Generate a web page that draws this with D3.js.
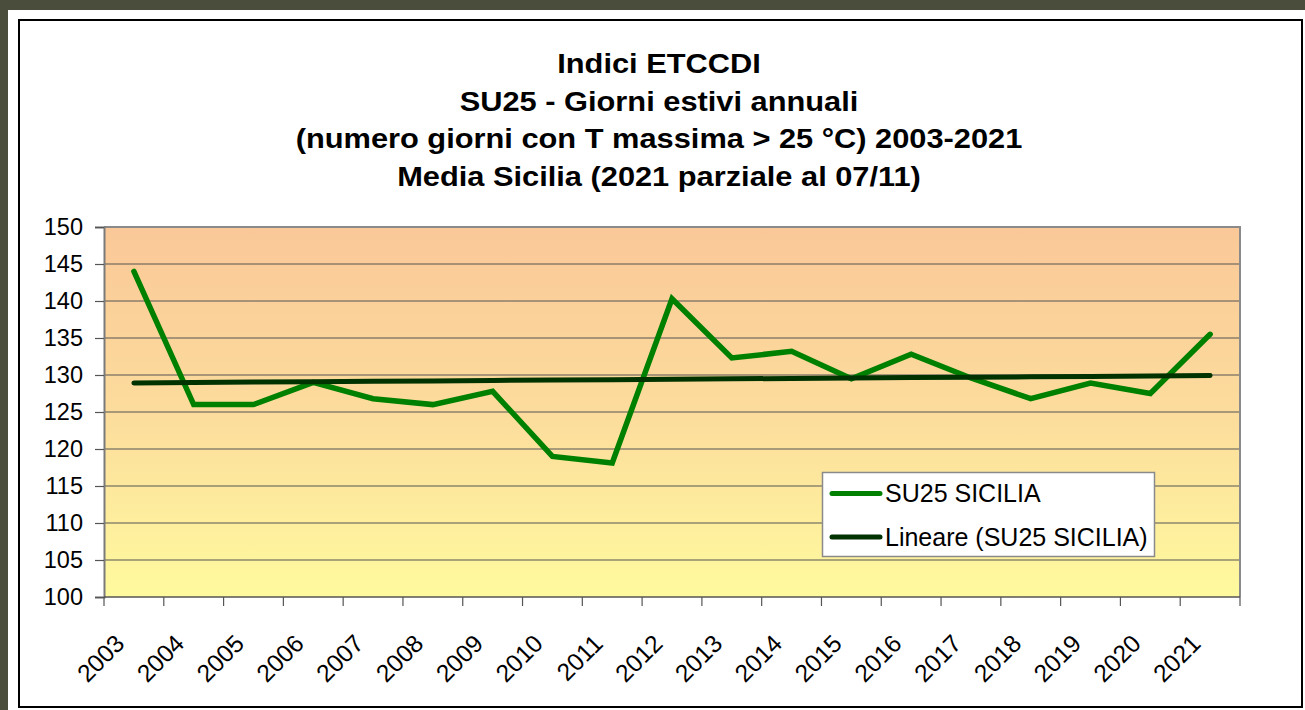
<!DOCTYPE html>
<html>
<head>
<meta charset="utf-8">
<script src="https://cdn.jsdelivr.net/npm/d3@7"></script>
<style>
  html, body { margin: 0; padding: 0; background: #4a4c3c; }
  svg { display: block; }
  text { font-family: "Liberation Sans", Arial, sans-serif; fill: #000; }
</style>
</head>
<body>
<svg id="chart" width="1305" height="710"></svg>
<script>
// ---- data ----
const years = ["2003","2004","2005","2006","2007","2008","2009","2010","2011","2012",
               "2013","2014","2015","2016","2017","2018","2019","2020","2021"];
const su25 = [144, 126, 126, 129, 126.8, 126, 127.8, 119, 118.1, 140.3,
              132.3, 133.2, 129.5, 132.8, 129.6, 126.8, 128.9, 127.5, 135.5];
const yTicks = [100,105,110,115,120,125,130,135,140,145,150];
const titleLines = [
  "Indici ETCCDI",
  "SU25 - Giorni estivi annuali",
  "(numero giorni con T massima > 25 °C) 2003-2021",
  "Media Sicilia (2021 parziale al 07/11)"
];
const seriesNames = ["SU25 SICILIA", "Lineare (SU25 SICILIA)"];

// ---- layout ----
const svg = d3.select("#chart");
const plot = {left: 104, top: 227, right: 1240, bottom: 597};

// outer panel
svg.append("rect").attr("x", 8).attr("y", 10).attr("width", 1297).attr("height", 700).attr("fill", "#fff");
svg.append("rect").attr("x", 19).attr("y", 20).attr("width", 1283).attr("height", 687)
   .attr("fill", "none").attr("stroke", "#000").attr("stroke-width", 2);

// gradient
const defs = svg.append("defs");
const grad = defs.append("linearGradient").attr("id", "bg").attr("x1", 0).attr("y1", 0).attr("x2", 0).attr("y2", 1);
grad.append("stop").attr("offset", "0%").attr("stop-color", "#fac898");
grad.append("stop").attr("offset", "50%").attr("stop-color", "#fcdc9c");
grad.append("stop").attr("offset", "100%").attr("stop-color", "#fffa9e");

const x = d3.scaleBand().domain(years).range([plot.left, plot.right]).padding(0);
const y = d3.scaleLinear().domain([100, 150]).range([plot.bottom, plot.top]);
const cx = d => x(d) + x.bandwidth() / 2;

svg.append("rect").attr("x", plot.left).attr("y", plot.top)
   .attr("width", plot.right - plot.left).attr("height", plot.bottom - plot.top)
   .attr("fill", "url(#bg)");

// gridlines
svg.append("g").selectAll("line").data(yTicks.filter(t => t > 100 && t < 150)).join("line")
   .attr("x1", plot.left).attr("x2", plot.right)
   .attr("y1", d => y(d)).attr("y2", d => y(d))
   .attr("stroke", "#555").attr("stroke-width", 1.2);

// plot border (top/right)
svg.append("path")
   .attr("d", `M${plot.left},${plot.top}H${plot.right}V${plot.bottom}`)
   .attr("fill", "none").attr("stroke", "#8a8a8a").attr("stroke-width", 2);

// y axis
const yAxis = d3.axisLeft(y).tickValues(yTicks).tickSize(9).tickPadding(12).tickFormat(d3.format("d"));
const gy = svg.append("g").attr("transform", `translate(${plot.left},0)`).call(yAxis);
gy.select(".domain").attr("stroke", "#7a7a7a").attr("stroke-width", 2);
gy.selectAll(".tick line").attr("stroke", "#555").attr("stroke-width", 1.2);
gy.selectAll(".tick text").attr("font-size", 23.5).attr("font-family", "Liberation Sans, Arial, sans-serif").attr("fill", "#000");

// x axis line + ticks at category boundaries
svg.append("line").attr("x1", plot.left).attr("x2", plot.right)
   .attr("y1", plot.bottom).attr("y2", plot.bottom)
   .attr("stroke", "#555").attr("stroke-width", 1.5);
const bounds = years.map(d => x(d)).concat([x(years[years.length - 1]) + x.bandwidth()]);
svg.append("g").selectAll("line").data(bounds).join("line")
   .attr("x1", d => d).attr("x2", d => d)
   .attr("y1", plot.bottom).attr("y2", plot.bottom + 9)
   .attr("stroke", "#555").attr("stroke-width", 1.2);

svg.append("g").selectAll("text").data(years).join("text")
   .attr("transform", d => `translate(${cx(d) - 14},${plot.bottom + 42}) rotate(-45)`)
   .attr("text-anchor", "end").attr("dy", "0.35em")
   .attr("font-size", 24.5)
   .text(d => d);

// trend (linear least squares of the series)
const n = su25.length;
const idx = d3.range(n);
const mx = d3.mean(idx), my = d3.mean(su25);
const slope = d3.sum(idx, i => (i - mx) * (su25[i] - my)) / d3.sum(idx, i => (i - mx) ** 2);
const trend = idx.map(i => my + slope * (i - mx));

const line = d3.line().x((d, i) => cx(years[i])).y(d => y(d));

svg.append("path").datum(su25).attr("d", line)
   .attr("fill", "none").attr("stroke", "#008000").attr("stroke-width", 5.5)
   .attr("stroke-linejoin", "miter").attr("stroke-linecap", "round");

svg.append("path").datum(trend).attr("d", line)
   .attr("fill", "none").attr("stroke", "#003300").attr("stroke-width", 5)
   .attr("stroke-linecap", "round");

// title
const tg = svg.append("g");
const baselines = [73, 110.5, 148, 186];
titleLines.forEach((t, i) => {
  tg.append("text")
    .attr("transform", `translate(659,${baselines[i]}) scale(1.1,1)`)
    .attr("text-anchor", "middle")
    .attr("font-size", 28).attr("font-weight", "bold")
    .text(t);
});

// legend
const lg = svg.append("g");
lg.append("rect").attr("x", 822.5).attr("y", 472.5).attr("width", 332).attr("height", 84)
  .attr("fill", "#fff").attr("stroke", "#8a8a8a").attr("stroke-width", 1.5);
const legendColors = ["#008000", "#003300"];
const legendY = [493.5, 537];
seriesNames.forEach((s, i) => {
  lg.append("line").attr("x1", 832).attr("x2", 880).attr("y1", legendY[i]).attr("y2", legendY[i])
    .attr("stroke", legendColors[i]).attr("stroke-width", 5).attr("stroke-linecap", "round");
  lg.append("text").attr("x", 885).attr("y", legendY[i]).attr("dy", "0.35em")
    .attr("font-size", 25).text(s);
});
</script>
</body>
</html>
